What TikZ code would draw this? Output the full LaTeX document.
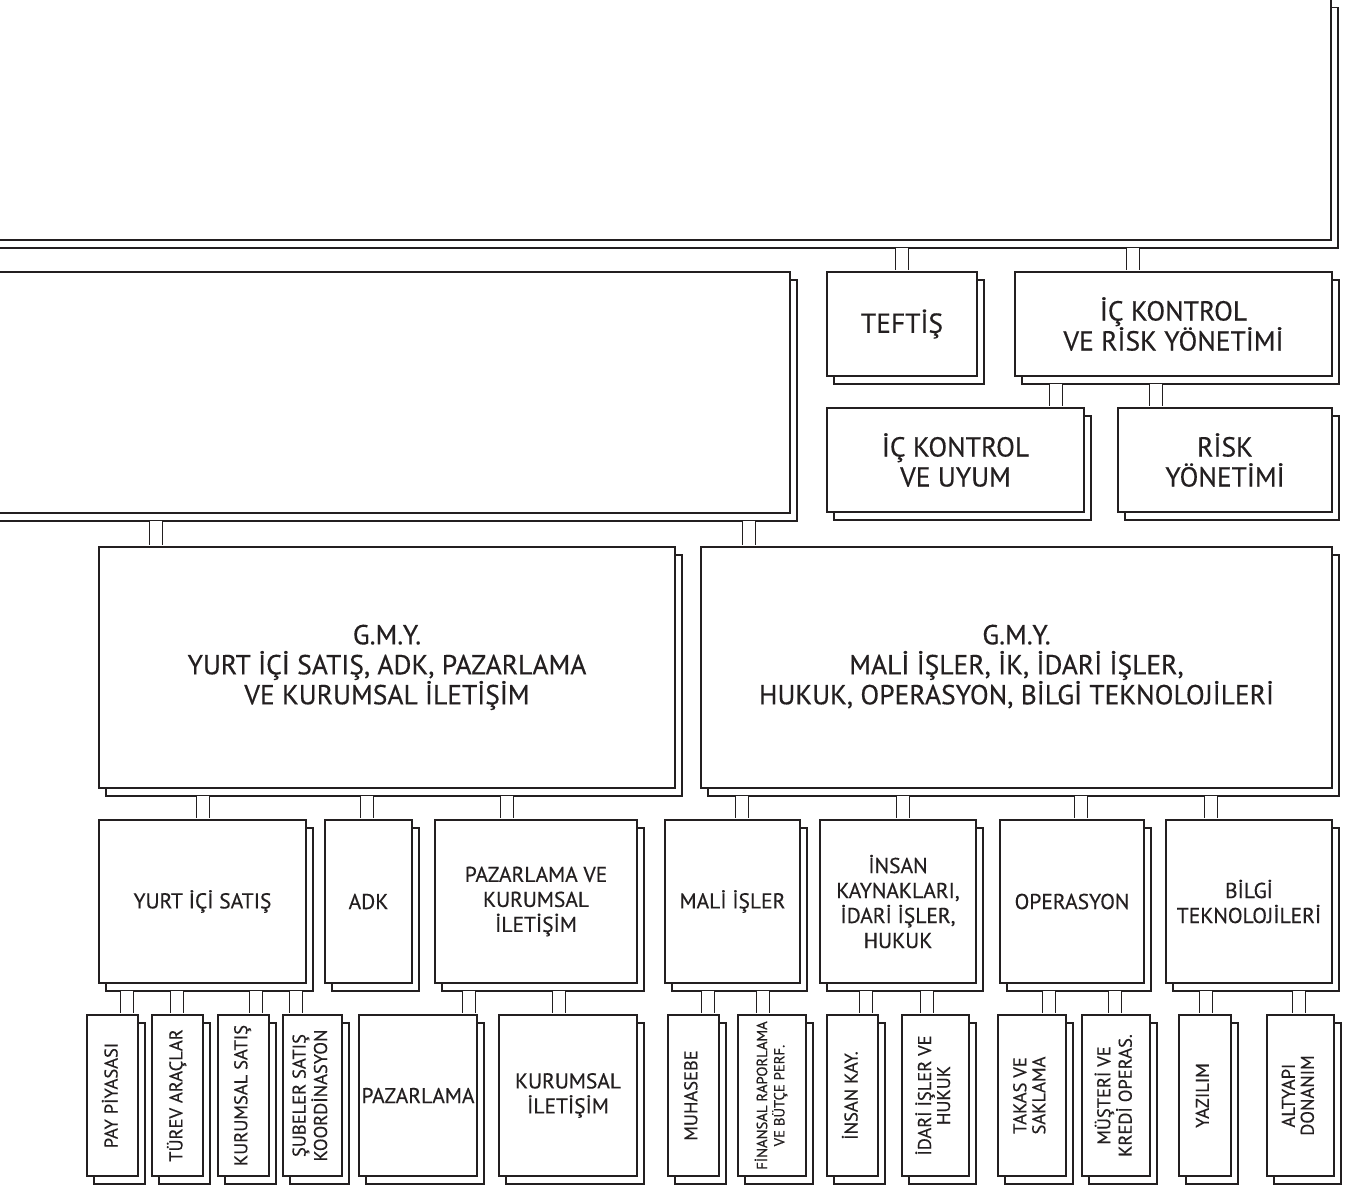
\documentclass[tikz,border=0pt]{standalone}
\usepackage{fontspec}
\setmainfont{PT Sans}[FakeBold=0.35]
\usepackage{graphicx}
\usetikzlibrary{shadows}
\definecolor{orgline}{HTML}{231F20}
\newcommand{\vlabel}[1]{\rotatebox{90}{\begin{tabular}{@{}c@{}}#1\end{tabular}}}
\tikzset{
  orgbox/.style={draw=orgline,fill=white,line width=1.8pt,align=center,inner sep=2pt,text=orgline,
    copy shadow={shadow xshift=7pt,shadow yshift=-8pt,fill=white,draw=orgline,line width=1.8pt}},
  bigbox/.style={orgbox,font=\fontsize{27.5}{30}\selectfont},
  midbox/.style={orgbox,font=\fontsize{21.5}{25}\selectfont},
  vbox/.style={orgbox,font=\fontsize{18.5}{19}\selectfont},
  tinybox/.style={orgbox,font=\fontsize{14.7}{16.5}\selectfont},
  chan/.style={draw=orgline,line width=1.8pt,double=white,double distance=11.2pt,shorten <=7pt,shorten >=0.9pt},
}
\begin{document}
\begin{tikzpicture}[x=1pt,y=-1pt]
  \useasboundingbox (0,0) rectangle (1345,1187);
  \fill[white] (0,0) rectangle (1345,1187);
  \clip (0,0) rectangle (1345,1187);
  % top levels
  \node[bigbox,minimum width=1351,minimum height=240.5] (topbox) at (655.5,119.75) {};
  \node[bigbox,minimum width=810,minimum height=241] (leftbox) at (385,392.5) {};
  \node[bigbox,minimum width=150,minimum height=104] (teftis) at (902,324) {TEFTİŞ};
  \node[bigbox,minimum width=317,minimum height=104] (ickrisk) at (1173.5,324) {İÇ KONTROL\\VE RİSK YÖNETİMİ};
  \node[bigbox,minimum width=257,minimum height=104] (icuyum) at (955.5,460) {İÇ KONTROL\\VE UYUM};
  \node[bigbox,minimum width=214,minimum height=104] (risk) at (1225,460) {RİSK\\YÖNETİMİ};
  \node[bigbox,minimum width=576,minimum height=241] (gmyleft) at (387,667.5) {G.M.Y.\\YURT İÇİ SATIŞ, ADK, PAZARLAMA\\VE KURUMSAL İLETİŞİM\\[-24pt]};
  \node[bigbox,minimum width=631,minimum height=241] (gmyright) at (1016.5,667.5) {G.M.Y.\\MALİ İŞLER, İK, İDARİ İŞLER,\\HUKUK, OPERASYON, BİLGİ TEKNOLOJİLERİ\\[-24pt]};
  % departments
  \node[midbox,minimum width=207,minimum height=163] (yis) at (202.5,901.5) {YURT İÇİ SATIŞ};
  \node[midbox,minimum width=87,minimum height=163] (adk) at (368.5,901.5) {ADK};
  \node[midbox,minimum width=202,minimum height=163] (pkil) at (536,901.5) {PAZARLAMA VE\\KURUMSAL\\İLETİŞİM};
  \node[midbox,minimum width=135,minimum height=163] (mali) at (732.5,901.5) {MALİ İŞLER};
  \node[midbox,minimum width=156,minimum height=163] (insan) at (898,901.5) {İNSAN\\KAYNAKLARI,\\İDARİ İŞLER,\\HUKUK};
  \node[midbox,minimum width=144,minimum height=163] (oper) at (1072,901.5) {OPERASYON};
  \node[midbox,minimum width=166,minimum height=163] (bilgi) at (1249,901.5) {BİLGİ\\TEKNOLOJİLERİ};
  % units
  \node[vbox,minimum width=51,minimum height=161] (pay) at (112.5,1095.5) {\vlabel{PAY PİYASASI}};
  \node[vbox,minimum width=51,minimum height=161] (turev) at (177.5,1095.5) {\vlabel{TÜREV ARAÇLAR}};
  \node[vbox,minimum width=51,minimum height=161] (kursat) at (243.5,1095.5) {\vlabel{KURUMSAL SATIŞ}};
  \node[vbox,minimum width=59,minimum height=161] (subeler) at (312.5,1095.5) {\vlabel{ŞUBELER SATIŞ\\KOORDİNASYON}};
  \node[midbox,minimum width=118,minimum height=161] (pazar) at (418,1095.5) {PAZARLAMA};
  \node[midbox,minimum width=138,minimum height=161] (kurilet) at (568,1095.5) {KURUMSAL\\İLETİŞİM};
  \node[vbox,minimum width=51,minimum height=161] (muhasebe) at (693.5,1095.5) {\vlabel{MUHASEBE}};
  \node[tinybox,minimum width=68,minimum height=161] (finans) at (772,1095.5) {\vlabel{FİNANSAL RAPORLAMA\\VE BÜTÇE PERF.}};
  \node[vbox,minimum width=51,minimum height=161] (insankay) at (852.5,1095.5) {\vlabel{İNSAN KAY.}};
  \node[vbox,minimum width=67,minimum height=161] (idari) at (935.5,1095.5) {\vlabel{İDARİ İŞLER VE\\HUKUK}};
  \node[vbox,minimum width=68,minimum height=161] (takas) at (1032,1095.5) {\vlabel{TAKAS VE\\SAKLAMA}};
  \node[vbox,minimum width=68,minimum height=161] (musteri) at (1116,1095.5) {\vlabel{MÜŞTERİ VE\\KREDİ OPERAS.}};
  \node[vbox,minimum width=52,minimum height=161] (yazilim) at (1205,1095.5) {\vlabel{YAZILIM}};
  \node[vbox,minimum width=67,minimum height=161] (altyapi) at (1300.5,1095.5) {\vlabel{ALTYAPI\\DONANIM}};
  % connectors
  \draw[chan](902,0 |- topbox.south)--(902,0 |- teftis.north);
  \draw[chan](1133,0 |- topbox.south)--(1133,0 |- ickrisk.north);
  \draw[chan](1056,0 |- ickrisk.south)--(1056,0 |- icuyum.north);
  \draw[chan](1156,0 |- ickrisk.south)--(1156,0 |- risk.north);
  \draw[chan](156,0 |- leftbox.south)--(156,0 |- gmyleft.north);
  \draw[chan](749,0 |- leftbox.south)--(749,0 |- gmyright.north);
  \draw[chan](203,0 |- gmyleft.south)--(203,0 |- yis.north);
  \draw[chan](367,0 |- gmyleft.south)--(367,0 |- adk.north);
  \draw[chan](507,0 |- gmyleft.south)--(507,0 |- pkil.north);
  \draw[chan](742,0 |- gmyright.south)--(742,0 |- mali.north);
  \draw[chan](903,0 |- gmyright.south)--(903,0 |- insan.north);
  \draw[chan](1081,0 |- gmyright.south)--(1081,0 |- oper.north);
  \draw[chan](1211,0 |- gmyright.south)--(1211,0 |- bilgi.north);
  \draw[chan](127,0 |- yis.south)--(127,0 |- pay.north);
  \draw[chan](177,0 |- yis.south)--(177,0 |- turev.north);
  \draw[chan](256,0 |- yis.south)--(256,0 |- kursat.north);
  \draw[chan](296,0 |- yis.south)--(296,0 |- subeler.north);
  \draw[chan](469,0 |- pkil.south)--(469,0 |- pazar.north);
  \draw[chan](559,0 |- pkil.south)--(559,0 |- kurilet.north);
  \draw[chan](708,0 |- mali.south)--(708,0 |- muhasebe.north);
  \draw[chan](763,0 |- mali.south)--(763,0 |- finans.north);
  \draw[chan](866,0 |- insan.south)--(866,0 |- insankay.north);
  \draw[chan](927,0 |- insan.south)--(927,0 |- idari.north);
  \draw[chan](1049,0 |- oper.south)--(1049,0 |- takas.north);
  \draw[chan](1115,0 |- oper.south)--(1115,0 |- musteri.north);
  \draw[chan](1206,0 |- bilgi.south)--(1206,0 |- yazilim.north);
  \draw[chan](1299,0 |- bilgi.south)--(1299,0 |- altyapi.north);
\end{tikzpicture}
\end{document}
